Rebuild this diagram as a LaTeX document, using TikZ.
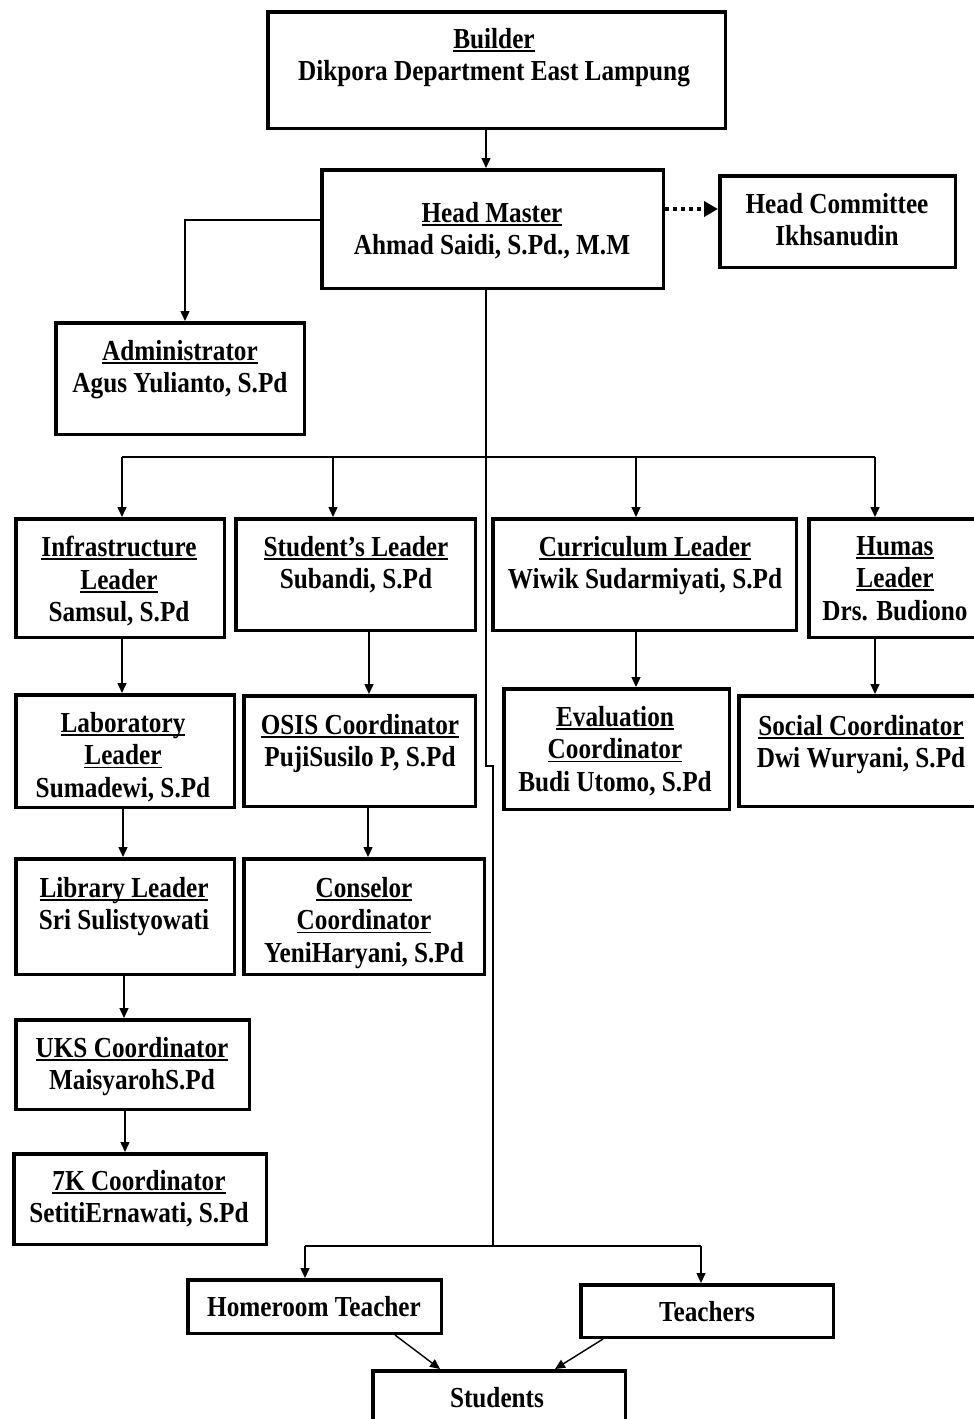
\documentclass[tikz,border=0pt]{standalone}
\usepackage{fontspec}
\setmainfont{Liberation Serif}[FakeStretch=0.87]
\usetikzlibrary{arrows.meta}
\newcommand\uln[1]{\setbox0\hbox{#1}\rlap{\rule[-3.5pt]{\wd0}{1.8pt}}\box0}
\begin{document}
\begin{tikzpicture}[x=1pt,y=-1pt,
  box/.style={draw, line width=3.5pt, inner sep=0pt, fill=none},
  txt/.style={font=\fontsize{29}{32.5}\selectfont\bfseries, align=center, inner sep=0pt, anchor=north},
  conn/.style={line width=1.4pt, -{Triangle[width=9pt,length=10pt]}},
  line/.style={line width=1.4pt},
  dotarr/.style={line width=4pt, dash pattern=on 4pt off 4pt, -{Triangle[width=15pt,length=14pt]}}]
\useasboundingbox (0,0) rectangle (974,1419);
\fill[white] (0,0) rectangle (974,1419);

% boxes
\node[box, minimum width=457.5pt, minimum height=116.5pt] (builder) at (496.5,70) {};
\node[box, minimum width=341.5pt, minimum height=118.5pt] (hm) at (492.5,229) {};
\node[box, minimum width=235.5pt, minimum height=91.5pt] (hc) at (837.5,221.5) {};
\node[box, minimum width=248.5pt, minimum height=111.5pt] (adm) at (180,378.5) {};
\node[box, minimum width=208.5pt, minimum height=118.5pt] (inf) at (120,578) {};
\node[box, minimum width=239.5pt, minimum height=111.5pt] (stu) at (355.5,574.5) {};
\node[box, minimum width=303.5pt, minimum height=111.5pt] (cur) at (644.5,574.5) {};
\node[box, minimum width=184.5pt, minimum height=118.5pt] (hum) at (901,578) {};
\node[box, minimum width=218.5pt, minimum height=112.5pt] (lab) at (125,751) {};
\node[box, minimum width=231.5pt, minimum height=110.5pt] (osis) at (359.5,751) {};
\node[box, minimum width=225.5pt, minimum height=120.5pt] (eval) at (616.5,749) {};
\node[box, minimum width=254.5pt, minimum height=110.5pt] (soc) at (866,751) {};
\node[box, minimum width=218.5pt, minimum height=115.5pt] (lib) at (125,916.5) {};
\node[box, minimum width=240.5pt, minimum height=115.5pt] (cons) at (364,916.5) {};
\node[box, minimum width=233.5pt, minimum height=89.5pt] (uks) at (132.5,1064.5) {};
\node[box, minimum width=252.5pt, minimum height=90.5pt] (sk) at (140,1199) {};
\node[box, minimum width=253.5pt, minimum height=53.5pt] (ht) at (314.5,1306.5) {};
\node[box, minimum width=252.5pt, minimum height=52.5pt] (tc) at (707,1311) {};
\node[box, minimum width=252.5pt, minimum height=77.5pt] (st) at (499,1409.5) {};

% texts
\node[txt] (builderT) at (494,28) {\uln{Builder}\\Dikpora Department East Lampung};
\node[txt] (hmT) at (492,202) {\uln{Head Master}\\Ahmad Saidi, S.Pd., M.M};
\node[txt] (hcT) at (837,193) {Head Committee\\Ikhsanudin};
\node[txt] (admT) at (180,340) {\uln{Administrator}\\Agus Yulianto, S.Pd};
\node[txt] (infT) at (119,536) {\uln{Infrastructure}\\\uln{Leader}\\Samsul, S.Pd};
\node[txt] (stuT) at (356,536) {\uln{Student’s Leader}\\Subandi, S.Pd};
\node[txt] (curT) at (645,536) {\uln{Curriculum Leader}\\Wiwik Sudarmiyati, S.Pd};
\node[txt] (humT) at (895,536) {\uln{Humas}\\\uln{Leader}\\Drs. Budiono};
\node[txt] (labT) at (123,712) {\uln{Laboratory}\\\uln{Leader}\\Sumadewi, S.Pd};
\node[txt] (osisT) at (360,714) {\uln{OSIS Coordinator}\\PujiSusilo P, S.Pd};
\node[txt] (evalT) at (615,706) {\uln{Evaluation}\\\uln{Coordinator}\\Budi Utomo, S.Pd};
\node[txt] (socT) at (861,715) {\uln{Social Coordinator}\\Dwi Wuryani, S.Pd};
\node[txt] (libT) at (124,877) {\uln{Library Leader}\\Sri Sulistyowati};
\node[txt] (consT) at (364,877) {\uln{Conselor}\\\uln{Coordinator}\\YeniHaryani, S.Pd};
\node[txt] (uksT) at (132,1037) {\uln{UKS Coordinator}\\MaisyarohS.Pd};
\node[txt] (skT) at (139,1170) {\uln{7K Coordinator}\\SetitiErnawati, S.Pd};
\node[txt] (htT) at (314,1296) {Homeroom Teacher};
\node[txt] (tcT) at (707,1301) {Teachers};
\node[txt] (stT) at (497,1387) {Students};

% connectors
\draw[conn] (486,0 |- builder.south) -- (486,0 |- hm.north);
\draw[conn] (hm.west |- 0,220) -| (185,0 |- adm.north);
\draw[dotarr] (hm.east |- 0,209) -- (hc.west |- 0,209);

\coordinate (jogA) at (486,766);
\coordinate (jogB) at (493,766);
\coordinate (bbus) at (493,1246);
\draw[line] (486,0 |- hm.south) -- (jogA) -- (jogB) -- (bbus);

\coordinate (busL) at (122,457);
\coordinate (busR) at (875,457);
\draw[line] (busL) -- (busR);
\draw[conn] (busL) -- (122,0 |- inf.north);
\draw[conn] (333,457) -- (333,0 |- stu.north);
\draw[conn] (636,457) -- (636,0 |- cur.north);
\draw[conn] (busR) -- (875,0 |- hum.north);

\draw[conn] (122,0 |- inf.south) -- (122,0 |- lab.north);
\draw[conn] (369,0 |- stu.south) -- (369,0 |- osis.north);
\draw[conn] (636,0 |- cur.south) -- (636,0 |- eval.north);
\draw[conn] (875,0 |- hum.south) -- (875,0 |- soc.north);
\draw[conn] (123,0 |- lab.south) -- (123,0 |- lib.north);
\draw[conn] (368,0 |- osis.south) -- (368,0 |- cons.north);
\draw[conn] (124,0 |- lib.south) -- (124,0 |- uks.north);
\draw[conn] (125,0 |- uks.south) -- (125,0 |- sk.north);

\coordinate (bbusL) at (305,1246);
\coordinate (bbusR) at (701,1246);
\draw[line] (bbusL) -- (bbusR);
\draw[conn] (bbusL) -- (305,0 |- ht.north);
\draw[conn] (bbusR) -- (701,0 |- tc.north);
\draw[conn] (395,0 |- ht.south) -- (440,0 |- st.north);
\draw[conn] (603,0 |- tc.south) -- (555,0 |- st.north);
\end{tikzpicture}
\end{document}
